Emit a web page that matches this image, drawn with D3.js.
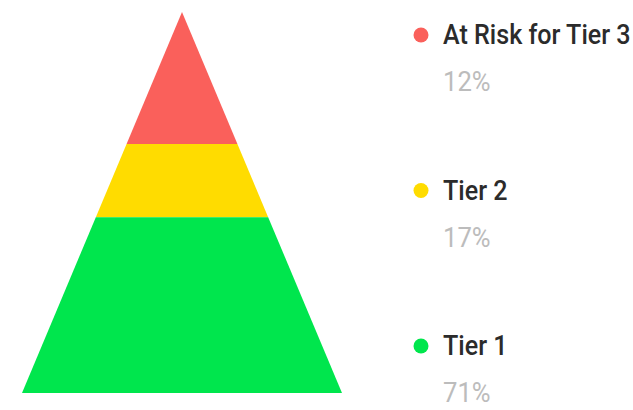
<!DOCTYPE html>
<html>
<head>
<meta charset="utf-8">
<script src="https://cdn.jsdelivr.net/npm/d3@7"></script>
<style>
body{margin:0;background:#fff;}
svg{display:block;}
</style>
</head>
<body>
<div id="chartplace"></div>
<script>
var tiers = ["At Risk for Tier 3", "Tier 2", "Tier 1"];
var values = [12, 17, 71];
var colors = ["#fa605b", "#ffdc00", "#00e64d"];
var pctLabels = ["12%", "17%", "71%"];

var width = 633;
var height = 410;
var svg = d3.select("#chartplace").append("svg")
	.attr("width", width)
	.attr("height", height);

// cumulative share from top of the pyramid (area proportional)
var cum = [];
var run = 0;
for(var i=0; i<values.length; i++){
	cum.push([run, run + values[i]]);
	run += values[i];
}

var y = d3.scaleSqrt().domain([0, 100]).range([12, 393]); // depth from apex
var halfW = d3.scaleLinear().domain([12, 393]).range([0, 160]);
var cx = 182;

function band(d){
	var y0 = y(d[0]), y1 = y(d[1]);
	var w0 = halfW(y0), w1 = halfW(y1);
	return "M" + (cx - w0) + "," + y0 + "L" + (cx + w0) + "," + y0 +
		"L" + (cx + w1) + "," + y1 + "L" + (cx - w1) + "," + y1 + "Z";
}

svg.selectAll(".tier")
	.data(cum)
	.enter()
	.append("path")
	.attr("class", "tier")
	.attr("d", band)
	.attr("fill", function(d, i){ return colors[i]; });

// legend
var ly = d3.scalePoint().domain(tiers).range([35, 346]);
var lg = svg.selectAll(".leg")
	.data(tiers)
	.enter()
	.append("g")
	.attr("class", "leg")
	.attr("transform", function(d){ return "translate(421," + ly(d) + ")"; });

lg.append("circle")
	.attr("r", 7.5)
	.attr("fill", function(d, i){ return colors[i]; });

// condensed look: squeeze the text horizontally
lg.append("text")
	.attr("transform", "translate(22,9) scale(0.93,1)")
	.attr("font-family", "Roboto, sans-serif")
	.attr("font-weight", 500)
	.attr("font-size", 27)
	.attr("fill", "#2b2b2b")
	.text(function(d){ return d; });

lg.append("text")
	.attr("transform", "translate(22,56) scale(0.95,1)")
	.attr("font-family", "Roboto, sans-serif")
	.attr("font-size", 27)
	.attr("fill", "#bcbcbc")
	.text(function(d, i){ return pctLabels[i]; });
</script>
</body>
</html>
